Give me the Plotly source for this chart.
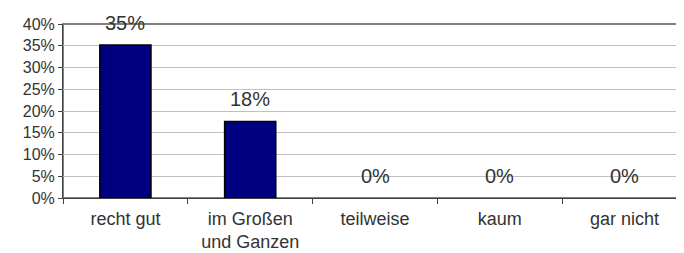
import plotly.graph_objects as go

categories = ["recht gut", "im Großen<br>und Ganzen", "teilweise", "kaum", "gar nicht"]
values = [0.352, 0.176, 0.0, 0.0, 0.0]
labels = ["35%", "18%", "0%", "0%", "0%"]
y_ticks = [0, 0.05, 0.10, 0.15, 0.20, 0.25, 0.30, 0.35, 0.40]
y_ticklabels = ["0%", "5%", "10%", "15%", "20%", "25%", "30%", "35%", "40%"]

FONT = "Liberation Sans, Arial, sans-serif"
TXT = "#333333"

fig = go.Figure()
fig.add_trace(go.Bar(
    x=categories, y=values,
    marker=dict(color="#000080",
                line=dict(color="#000000", width=[1.5 if v > 0 else 0 for v in values])),
    hoverinfo="skip",
))

for c, v, t in zip(categories, values, labels):
    fig.add_annotation(x=c, y=v, text=t, showarrow=False, yanchor="bottom",
                       yshift=9, font=dict(family=FONT, size=20, color=TXT))

fig.add_shape(type="rect", xref="paper", yref="paper", x0=0, x1=1, y0=0, y1=1,
              line=dict(color="#808080", width=2), layer="below")

fig.update_layout(
    width=684, height=253,
    margin=dict(l=55, r=5, t=16, b=63),
    paper_bgcolor="white", plot_bgcolor="white",
    bargap=0.59,
    showlegend=False,
    font=dict(family=FONT, color=TXT),
)
fig.update_xaxes(
    type="category", tickson="boundaries", ticks="outside", ticklen=5,
    tickcolor="#404040", showline=True, linecolor="#404040", linewidth=1,
    tickfont=dict(family=FONT, size=18, color=TXT), showgrid=False,
    ticklabelstandoff=4, automargin=False,
)
fig.update_yaxes(
    range=[0, 0.40], tickvals=y_ticks, ticktext=y_ticklabels,
    ticks="outside", ticklen=4, tickcolor="#404040",
    showline=True, linecolor="#404040", linewidth=1,
    showgrid=True, gridcolor="#c0c0c0", gridwidth=1, zeroline=False,
    tickfont=dict(family=FONT, size=16, color=TXT), automargin=False,
)

fig.write_html("out.html")
